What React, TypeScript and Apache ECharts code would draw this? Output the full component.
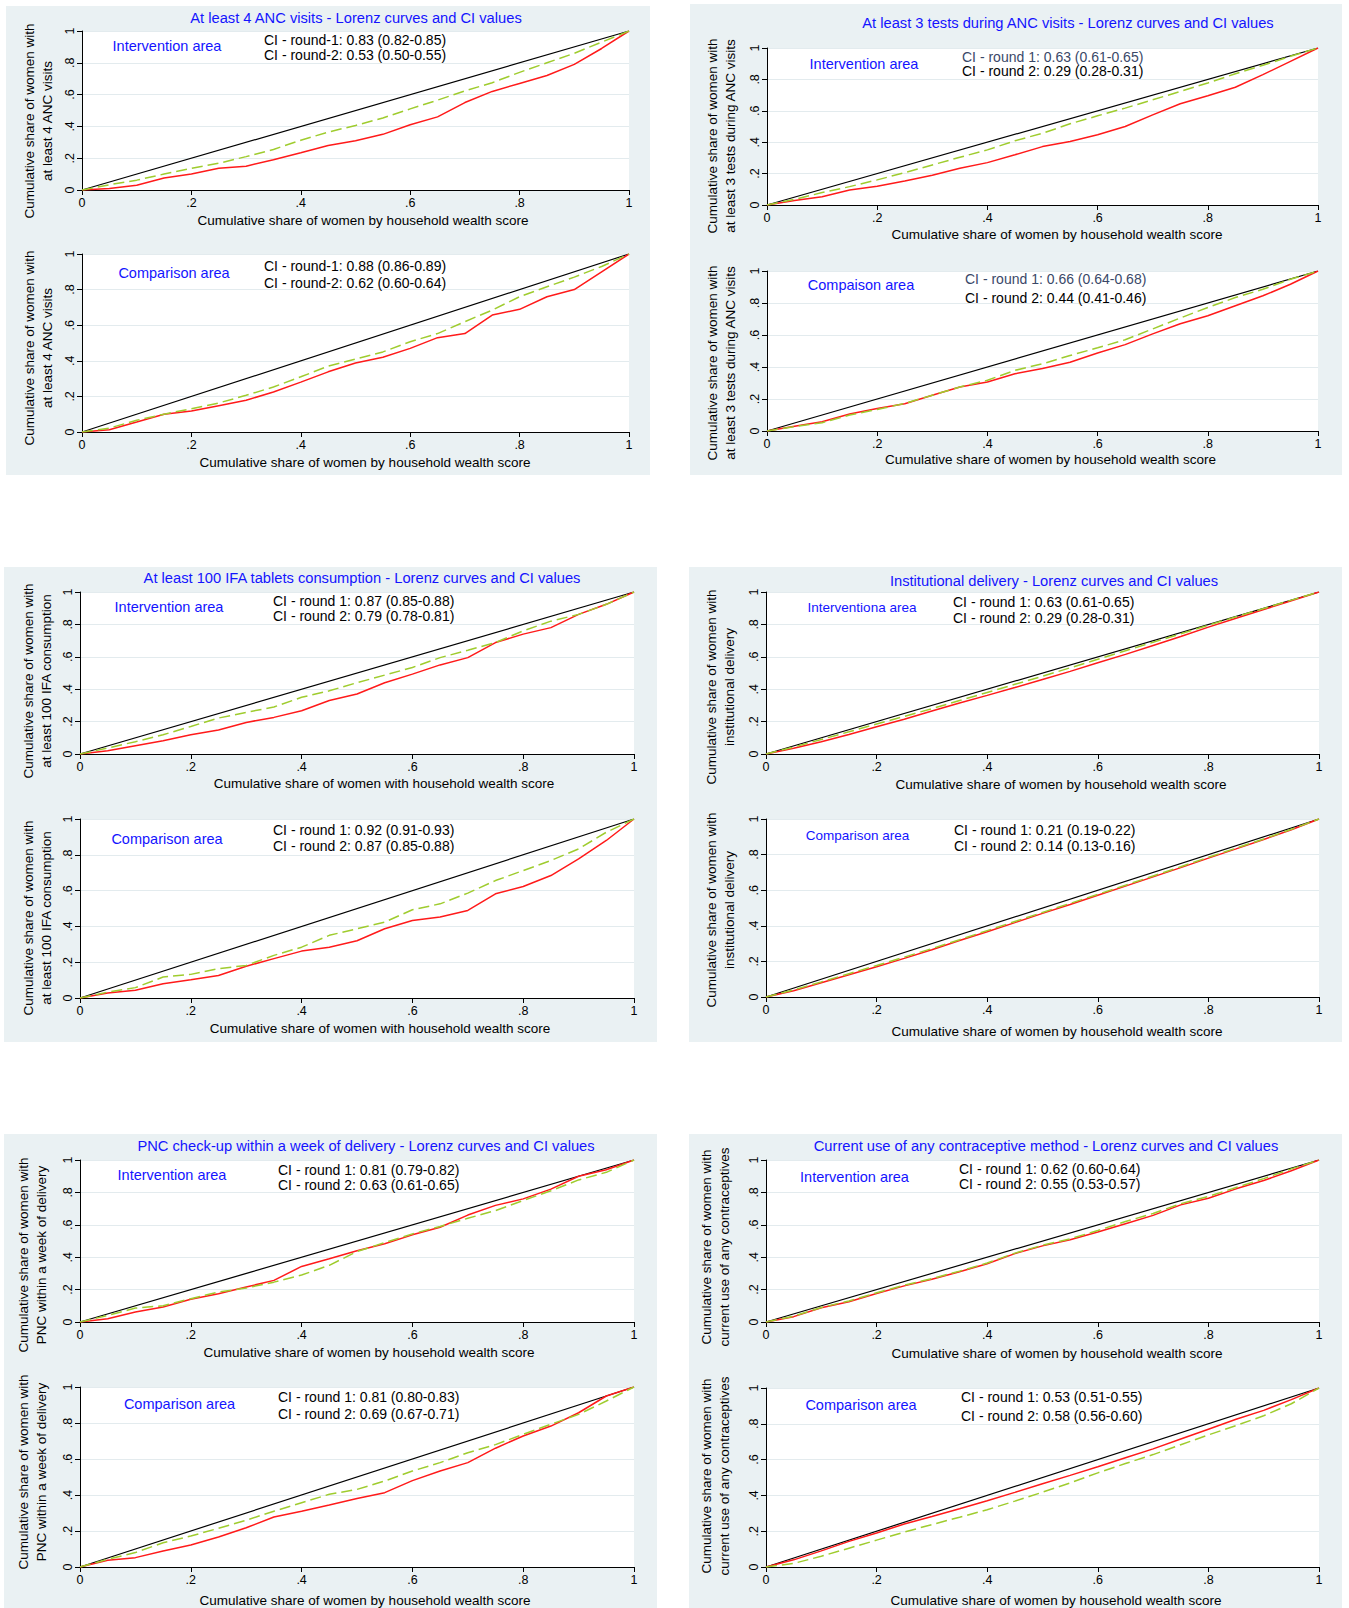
import React, { useEffect, useRef } from "react";
import * as echarts from "echarts";

// Cumulative share of women (x) — common grid for all Lorenz curves
const SHARE = [0, 0.05, 0.1, 0.15, 0.2, 0.25, 0.3, 0.35, 0.4, 0.45, 0.5, 0.55, 0.6, 0.65, 0.7, 0.75, 0.8, 0.85, 0.9, 0.95, 1];
const EQUALITY = [0, 1];
const TICKS = [0, 0.2, 0.4, 0.6, 0.8, 1];

// At least 4 ANC visits
const anc4IntR1 = [0, 0.01, 0.03, 0.075, 0.1, 0.137, 0.15, 0.19, 0.234, 0.28, 0.31, 0.35, 0.41, 0.46, 0.55, 0.62, 0.67, 0.72, 0.79, 0.89, 1];
const anc4IntR2 = [0, 0.033, 0.062, 0.1, 0.137, 0.168, 0.21, 0.255, 0.313, 0.364, 0.406, 0.453, 0.51, 0.565, 0.623, 0.675, 0.74, 0.8, 0.86, 0.93, 1];
const anc4CmpR1 = [0, 0.013, 0.056, 0.1, 0.118, 0.148, 0.178, 0.225, 0.28, 0.338, 0.388, 0.42, 0.47, 0.53, 0.553, 0.657, 0.689, 0.76, 0.8, 0.9, 1];
const anc4CmpR2 = [0, 0.022, 0.066, 0.1, 0.131, 0.163, 0.206, 0.253, 0.31, 0.37, 0.41, 0.45, 0.507, 0.553, 0.62, 0.685, 0.76, 0.816, 0.87, 0.93, 1];

// At least 3 tests during ANC visits
const test3IntR1 = [0, 0.028, 0.053, 0.096, 0.12, 0.153, 0.19, 0.234, 0.27, 0.32, 0.372, 0.404, 0.447, 0.5, 0.574, 0.645, 0.696, 0.75, 0.83, 0.915, 1];
const test3IntR2 = [0, 0.036, 0.079, 0.117, 0.16, 0.206, 0.255, 0.304, 0.351, 0.409, 0.457, 0.517, 0.568, 0.617, 0.67, 0.723, 0.777, 0.836, 0.89, 0.947, 1];
const test3CmpR1 = [0, 0.03, 0.058, 0.106, 0.14, 0.17, 0.224, 0.275, 0.306, 0.358, 0.39, 0.43, 0.487, 0.54, 0.607, 0.67, 0.72, 0.783, 0.845, 0.917, 1];
const test3CmpR2 = [0, 0.027, 0.052, 0.1, 0.135, 0.172, 0.224, 0.275, 0.317, 0.379, 0.42, 0.472, 0.52, 0.57, 0.638, 0.706, 0.772, 0.834, 0.886, 0.948, 1];

// At least 100 IFA tablets consumption
const ifaIntR1 = [0, 0.02, 0.051, 0.082, 0.119, 0.148, 0.195, 0.226, 0.267, 0.33, 0.37, 0.44, 0.493, 0.55, 0.595, 0.688, 0.74, 0.78, 0.862, 0.924, 1];
const ifaIntR2 = [0, 0.037, 0.076, 0.119, 0.17, 0.222, 0.257, 0.29, 0.35, 0.39, 0.44, 0.487, 0.534, 0.595, 0.64, 0.688, 0.76, 0.82, 0.862, 0.924, 1];
const ifaCmpR1 = [0, 0.028, 0.043, 0.08, 0.102, 0.126, 0.177, 0.22, 0.262, 0.284, 0.32, 0.387, 0.433, 0.452, 0.489, 0.582, 0.623, 0.684, 0.777, 0.88, 1];
const ifaCmpR2 = [0, 0.033, 0.058, 0.117, 0.132, 0.164, 0.182, 0.238, 0.284, 0.35, 0.387, 0.424, 0.493, 0.526, 0.586, 0.656, 0.712, 0.768, 0.833, 0.926, 1];

// Institutional delivery
const instIntR1 = [0, 0.035, 0.075, 0.12, 0.168, 0.215, 0.265, 0.315, 0.362, 0.41, 0.46, 0.51, 0.563, 0.615, 0.67, 0.725, 0.783, 0.838, 0.892, 0.946, 1];
const instIntR2 = [0, 0.043, 0.09, 0.137, 0.185, 0.232, 0.28, 0.33, 0.38, 0.43, 0.48, 0.532, 0.585, 0.637, 0.69, 0.742, 0.795, 0.847, 0.898, 0.95, 1];
const instCmpR1 = [0, 0.035, 0.08, 0.125, 0.17, 0.217, 0.265, 0.317, 0.367, 0.418, 0.47, 0.52, 0.572, 0.623, 0.675, 0.727, 0.78, 0.832, 0.885, 0.94, 1];
const instCmpR2 = [0, 0.04, 0.085, 0.131, 0.177, 0.224, 0.272, 0.322, 0.373, 0.424, 0.475, 0.526, 0.577, 0.628, 0.68, 0.732, 0.785, 0.836, 0.888, 0.942, 1];

// PNC check-up within a week of delivery
const pncIntR1 = [0, 0.02, 0.062, 0.092, 0.14, 0.175, 0.216, 0.257, 0.343, 0.39, 0.44, 0.483, 0.538, 0.585, 0.66, 0.72, 0.76, 0.82, 0.9, 0.94, 1];
const pncIntR2 = [0, 0.04, 0.086, 0.1, 0.144, 0.185, 0.21, 0.246, 0.29, 0.35, 0.435, 0.49, 0.544, 0.59, 0.64, 0.688, 0.75, 0.81, 0.877, 0.924, 1];
const pncCmpR1 = [0, 0.037, 0.052, 0.089, 0.122, 0.167, 0.218, 0.278, 0.31, 0.344, 0.381, 0.413, 0.48, 0.533, 0.58, 0.66, 0.728, 0.783, 0.857, 0.95, 1];
const pncCmpR2 = [0, 0.043, 0.08, 0.135, 0.172, 0.215, 0.26, 0.31, 0.357, 0.404, 0.431, 0.478, 0.533, 0.58, 0.635, 0.68, 0.737, 0.793, 0.848, 0.922, 1];

// Current use of any contraceptive method
const fpIntR1 = [0, 0.033, 0.088, 0.125, 0.176, 0.223, 0.264, 0.31, 0.36, 0.422, 0.47, 0.508, 0.555, 0.607, 0.658, 0.723, 0.764, 0.822, 0.873, 0.934, 1];
const fpIntR2 = [0, 0.036, 0.09, 0.13, 0.18, 0.227, 0.268, 0.314, 0.364, 0.425, 0.474, 0.513, 0.565, 0.62, 0.67, 0.73, 0.775, 0.83, 0.885, 0.945, 1];
const fpCmpR1 = [0, 0.04, 0.09, 0.143, 0.19, 0.24, 0.282, 0.325, 0.37, 0.417, 0.465, 0.512, 0.56, 0.61, 0.66, 0.715, 0.77, 0.825, 0.875, 0.935, 1];
const fpCmpR2 = [0, 0.02, 0.06, 0.105, 0.15, 0.195, 0.237, 0.278, 0.32, 0.368, 0.418, 0.47, 0.526, 0.578, 0.628, 0.683, 0.738, 0.79, 0.845, 0.912, 1];

const PANEL_TITLES = [
  "At least 4 ANC visits - Lorenz curves and CI values",
  "At least 3 tests during ANC visits - Lorenz curves and CI values",
  "At least 100 IFA tablets consumption - Lorenz curves and CI values",
  "Institutional delivery - Lorenz curves and CI values",
  "PNC check-up within a week of delivery - Lorenz curves and CI values",
  "Current use of any contraceptive method - Lorenz curves and CI values",
];

const FONT = '"Liberation Sans", Arial, Helvetica, sans-serif';
const BLUE = "#1414ff";
const PANEL_BG = "#eaf1f3";
const GRIDLINE = "#e3ebee";
const RED = "#ff1a1a";
const GREEN = "#9fcc2e";

const BY = "Cumulative share of women by household wealth score";
const WITH = "Cumulative share of women with household wealth score";
const YT = "Cumulative share of women with";

// layout (positions only)
const panels = [
  { rect: [6, 6, 644, 469], title: [356, 17.5] },
  { rect: [690, 4, 652, 471], title: [1068, 22.5] },
  { rect: [4, 567, 653, 475], title: [362, 578] },
  { rect: [689, 567, 653, 475], title: [1054, 581] },
  { rect: [4, 1134, 653, 474], title: [366, 1146] },
  { rect: [689, 1134, 653, 474], title: [1046, 1146] },
];

const subs = [
  { grid: [82, 31, 547, 159], r1: anc4IntR1, r2: anc4IntR2, area: "Intervention area", areaPos: [167, 46], areaSize: 14.5,
    ci: ["CI - round-1: 0.83 (0.82-0.85)", "CI - round-2: 0.53 (0.50-0.55)"], ciPos: [264, 40, 55], ci1Color: "#000",
    xt: BY, xtPos: [363, 220.5], yt: YT + "\nat least 4 ANC visits", ytPos: [38.5, 121] },
  { grid: [82, 254, 547, 178], r1: anc4CmpR1, r2: anc4CmpR2, area: "Comparison area", areaPos: [174, 273], areaSize: 14.5,
    ci: ["CI - round-1: 0.88 (0.86-0.89)", "CI - round-2: 0.62 (0.60-0.64)"], ciPos: [264, 266, 283], ci1Color: "#000",
    xt: BY, xtPos: [365, 462], yt: YT + "\nat least 4 ANC visits", ytPos: [38.5, 348] },
  { grid: [767, 48, 551, 157], r1: test3IntR1, r2: test3IntR2, area: "Intervention area", areaPos: [864, 63.5], areaSize: 14.5,
    ci: ["CI - round 1: 0.63 (0.61-0.65)", "CI - round 2: 0.29 (0.28-0.31)"], ciPos: [962, 56.5, 71], ci1Color: "#3a4868",
    xt: BY, xtPos: [1057, 234], yt: YT + "\nat least 3 tests during ANC visits", ytPos: [721, 136] },
  { grid: [767, 271, 551, 160], r1: test3CmpR1, r2: test3CmpR2, area: "Compaison area", areaPos: [861, 285], areaSize: 14.5,
    ci: ["CI - round 1: 0.66 (0.64-0.68)", "CI - round 2: 0.44 (0.41-0.46)"], ciPos: [965, 279, 297.5], ci1Color: "#3a4868",
    xt: BY, xtPos: [1050.5, 459.5], yt: YT + "\nat least 3 tests during ANC visits", ytPos: [721, 363] },
  { grid: [80, 592, 554, 162], r1: ifaIntR1, r2: ifaIntR2, area: "Intervention area", areaPos: [169, 607], areaSize: 14.5,
    ci: ["CI - round 1: 0.87 (0.85-0.88)", "CI - round 2: 0.79 (0.78-0.81)"], ciPos: [273, 601, 615.5], ci1Color: "#000",
    xt: WITH, xtPos: [384, 783], yt: YT + "\nat least 100 IFA consumption", ytPos: [37.5, 681] },
  { grid: [80, 819, 554, 179], r1: ifaCmpR1, r2: ifaCmpR2, area: "Comparison area", areaPos: [167, 839], areaSize: 14.5,
    ci: ["CI - round 1: 0.92 (0.91-0.93)", "CI - round 2: 0.87 (0.85-0.88)"], ciPos: [273, 830, 846], ci1Color: "#000",
    xt: WITH, xtPos: [380, 1028], yt: YT + "\nat least 100 IFA consumption", ytPos: [37.5, 918] },
  { grid: [766, 592, 553, 162], r1: instIntR1, r2: instIntR2, area: "Interventiona area", areaPos: [862, 607], areaSize: 13.5,
    ci: ["CI - round 1: 0.63 (0.61-0.65)", "CI - round 2: 0.29 (0.28-0.31)"], ciPos: [953, 602, 617.5], ci1Color: "#000",
    xt: BY, xtPos: [1061, 784], yt: YT + "\ninstitutional delivery", ytPos: [720, 687] },
  { grid: [766, 819, 553, 178], r1: instCmpR1, r2: instCmpR2, area: "Comparison area", areaPos: [857.5, 835], areaSize: 13.5,
    ci: ["CI - round 1: 0.21 (0.19-0.22)", "CI - round 2: 0.14 (0.13-0.16)"], ciPos: [954, 830, 846], ci1Color: "#000",
    xt: BY, xtPos: [1057, 1031], yt: YT + "\ninstitutional delivery", ytPos: [720, 910] },
  { grid: [80, 1160, 554, 162], r1: pncIntR1, r2: pncIntR2, area: "Intervention area", areaPos: [172, 1175], areaSize: 14.5,
    ci: ["CI - round 1: 0.81 (0.79-0.82)", "CI - round 2: 0.63 (0.61-0.65)"], ciPos: [278, 1169.5, 1185], ci1Color: "#000",
    xt: BY, xtPos: [369, 1352], yt: YT + "\nPNC within a week of delivery", ytPos: [32, 1255] },
  { grid: [80, 1387, 554, 180], r1: pncCmpR1, r2: pncCmpR2, area: "Comparison area", areaPos: [179.5, 1403.5], areaSize: 14.5,
    ci: ["CI - round 1: 0.81 (0.80-0.83)", "CI - round 2: 0.69 (0.67-0.71)"], ciPos: [278, 1397, 1413.5], ci1Color: "#000",
    xt: BY, xtPos: [365, 1600], yt: YT + "\nPNC within a week of delivery", ytPos: [32, 1472] },
  { grid: [766, 1160, 553, 162], r1: fpIntR1, r2: fpIntR2, area: "Intervention area", areaPos: [854.5, 1177], areaSize: 14.5,
    ci: ["CI - round 1: 0.62 (0.60-0.64)", "CI - round 2: 0.55 (0.53-0.57)"], ciPos: [959, 1168.5, 1184], ci1Color: "#000",
    xt: BY, xtPos: [1057, 1353], yt: YT + "\ncurrent use of any contraceptives", ytPos: [715.5, 1247] },
  { grid: [766, 1388, 553, 179], r1: fpCmpR1, r2: fpCmpR2, area: "Comparison area", areaPos: [861, 1404.5], areaSize: 14.5,
    ci: ["CI - round 1: 0.53 (0.51-0.55)", "CI - round 2: 0.58 (0.56-0.60)"], ciPos: [961, 1397, 1415.5], ci1Color: "#000",
    xt: BY, xtPos: [1056, 1600], yt: YT + "\ncurrent use of any contraceptives", ytPos: [715.5, 1476] },
];

const fmt = (v: number) => (v === 0 ? "0" : v === 1 ? "1" : v.toFixed(1).replace(/^0/, ""));

function buildOption() {
  const grid: any[] = [];
  const xAxis: any[] = [];
  const yAxis: any[] = [];
  const series: any[] = [];
  const graphic: any[] = [];

  panels.forEach((p) => {
    graphic.push({
      type: "rect", z: -10, silent: true,
      shape: { x: p.rect[0], y: p.rect[1], width: p.rect[2], height: p.rect[3] },
      style: { fill: PANEL_BG },
    });
  });
  PANEL_TITLES.forEach((t, i) => {
    const p = panels[i];
    graphic.push({
      type: "text", z: 10, x: p.title[0], y: p.title[1],
      style: { text: t, fill: BLUE, fontSize: 14.7, fontFamily: FONT, align: "center", verticalAlign: "middle" },
    });
  });

  subs.forEach((s, i) => {
    grid.push({
      left: s.grid[0], top: s.grid[1], width: s.grid[2], height: s.grid[3],
      show: true, backgroundColor: "#ffffff", borderWidth: 0, borderColor: "transparent",
    });
    xAxis.push({
      gridIndex: i, type: "value", min: TICKS[0], max: TICKS[TICKS.length - 1], interval: 0.2,
      axisLine: { show: true, onZero: false, lineStyle: { color: "#000", width: 1 } },
      axisTick: { show: true, length: 5, lineStyle: { color: "#000", width: 1 } },
      axisLabel: { formatter: fmt, color: "#000", fontSize: 12.5, fontFamily: FONT, margin: 6 },
      splitLine: { show: false },
    });
    yAxis.push({
      gridIndex: i, type: "value", min: TICKS[0], max: TICKS[TICKS.length - 1], interval: 0.2,
      axisLine: { show: true, onZero: false, lineStyle: { color: "#000", width: 1 } },
      axisTick: { show: true, length: 5, lineStyle: { color: "#000", width: 1 } },
      axisLabel: { formatter: fmt, color: "#000", fontSize: 12.5, fontFamily: FONT, margin: 6, rotate: 90 },
      splitLine: { show: true, lineStyle: { color: GRIDLINE, width: 1 } },
    });
    series.push({
      type: "line", xAxisIndex: i, yAxisIndex: i, symbol: "none", silent: true,
      data: EQUALITY.map((v) => [v, v]),
      lineStyle: { color: "#000", width: 1.2 }, z: 2,
    });
    series.push({
      type: "line", xAxisIndex: i, yAxisIndex: i, symbol: "none", silent: true,
      data: SHARE.map((x, j) => [x, s.r1[j]]),
      lineStyle: { color: RED, width: 1.5 }, z: 3,
    });
    series.push({
      type: "line", xAxisIndex: i, yAxisIndex: i, symbol: "none", silent: true,
      data: SHARE.map((x, j) => [x, s.r2[j]]),
      lineStyle: { color: GREEN, width: 1.5, type: [11, 5] }, z: 4,
    });

    graphic.push({
      type: "text", z: 10, x: s.areaPos[0], y: s.areaPos[1],
      style: { text: s.area, fill: BLUE, fontSize: s.areaSize, fontFamily: FONT, align: "center", verticalAlign: "middle" },
    });
    graphic.push({
      type: "text", z: 10, x: s.ciPos[0], y: s.ciPos[1],
      style: { text: s.ci[0], fill: s.ci1Color, fontSize: 14, fontFamily: FONT, align: "left", verticalAlign: "middle" },
    });
    graphic.push({
      type: "text", z: 10, x: s.ciPos[0], y: s.ciPos[2],
      style: { text: s.ci[1], fill: "#000", fontSize: 14, fontFamily: FONT, align: "left", verticalAlign: "middle" },
    });
    graphic.push({
      type: "text", z: 10, x: s.xtPos[0], y: s.xtPos[1],
      style: { text: s.xt, fill: "#000", fontSize: 13.5, fontFamily: FONT, align: "center", verticalAlign: "middle" },
    });
    graphic.push({
      type: "text", z: 10, x: s.ytPos[0], y: s.ytPos[1], rotation: Math.PI / 2,
      style: { text: s.yt, fill: "#000", fontSize: 13.5, fontFamily: FONT, align: "center", verticalAlign: "middle", lineHeight: 18 },
    });
  });

  return {
    animation: false,
    backgroundColor: "#ffffff",
    textStyle: { fontFamily: FONT },
    grid, xAxis, yAxis, series, graphic,
  };
}

export default function App() {
  const ref = useRef<HTMLDivElement>(null);
  useEffect(() => {
    if (!ref.current) return;
    const chart = echarts.init(ref.current, undefined, { renderer: "svg" });
    chart.setOption(buildOption() as any);
    return () => chart.dispose();
  }, []);
  return (
    <div
      ref={ref}
      style={{ position: "absolute", left: 0, top: 0, width: 1349, height: 1608 }}
    />
  );
}
